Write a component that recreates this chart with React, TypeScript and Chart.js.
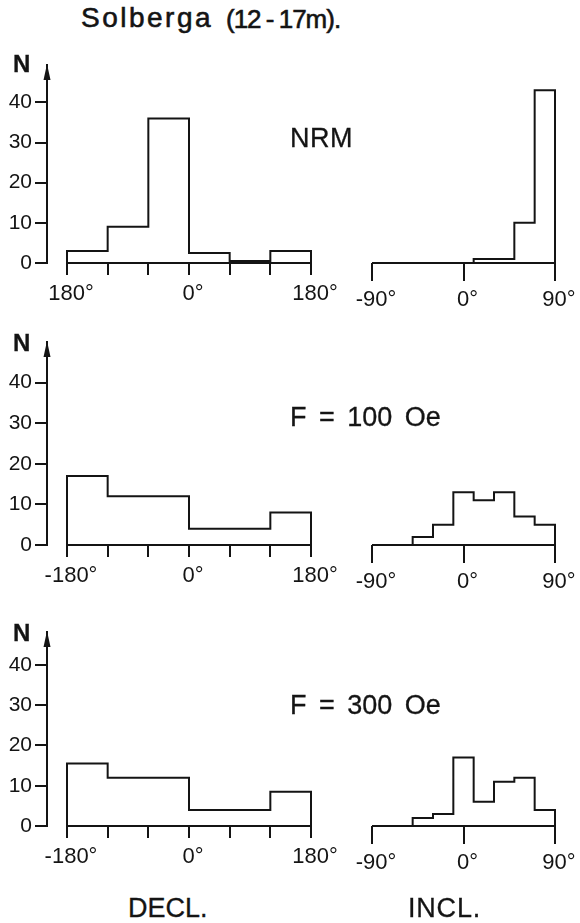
import React, { useEffect, useRef } from "react";
import { Chart, registerables } from "chart.js";

Chart.register(...registerables);

// ---- data ----
const declEdges = [-180, -120, -60, 0, 60, 120, 180];
const inclEdges = [-90, -70, -50, -30, -10, 10, 30, 50, 70, 90];
const declTicks = [-180, -120, -60, 0, 60, 120, 180];
const inclTicks = [-90, 0, 90];
const yTicks = [0, 10, 20, 30, 40];
const declTickLabelsTop = ["180°", "", "", "0°", "", "", "180°"];
const declTickLabels = ["-180°", "", "", "0°", "", "", "180°"];
const inclTickLabels = ["-90°", "0°", "90°"];

const nrmDecl = [3, 9, 36, 2.5, 0.5, 3];
const nrmIncl = [0, 0, 0, 0, 0, 1, 1, 10, 43];
const f100Decl = [17, 12, 12, 4, 4, 8];
const f100Incl = [0, 0, 2, 5, 13, 11, 13, 7, 5];
const f300Decl = [15.5, 12, 12, 4, 4, 8.5];
const f300Incl = [0, 0, 2, 3, 17, 6, 11, 12, 4];

const FONT = "'Liberation Sans', Arial, sans-serif";
const INK = "#141414";

function stepPoints(edges: number[], values: number[]) {
  const pts: { x: number; y: number }[] = [{ x: edges[0], y: 0 }];
  values.forEach((v, i) => pts.push({ x: edges[i], y: v }));
  pts.push({ x: edges[edges.length - 1], y: values[values.length - 1] });
  pts.push({ x: edges[edges.length - 1], y: 0 });
  return pts;
}

const arrowPlugin = {
  id: "yArrow",
  afterDraw(chart: any) {
    const y = chart.scales.y;
    if (!y || !y.options.display) return;
    const ctx = chart.ctx;
    const x = y.right;
    const top = chart.chartArea.top;
    ctx.save();
    ctx.fillStyle = INK;
    ctx.beginPath();
    ctx.moveTo(x, top - 1);
    ctx.lineTo(x - 3.5, top + 15);
    ctx.lineTo(x + 3.5, top + 15);
    ctx.closePath();
    ctx.fill();
    ctx.restore();
  },
};

type PanelProps = {
  left: number;
  top: number;
  width: number;
  height: number;
  edges: number[];
  values: number[];
  ticks: number[];
  tickLabels: string[];
  xMin: number;
  xMax: number;
  yMax: number;
  showY: boolean;
  tickLen: number;
  padding: { left: number; top: number; right: number; bottom: number };
};

function Panel(p: PanelProps) {
  const ref = useRef<HTMLCanvasElement | null>(null);
  useEffect(() => {
    if (!ref.current) return;
    const chart = new Chart(ref.current, {
      type: "line",
      data: {
        datasets: [
          {
            data: stepPoints(p.edges, p.values),
            stepped: true,
            borderColor: INK,
            borderWidth: 2,
            pointRadius: 0,
            fill: false,
            clip: false,
          } as any,
          {
            data: [
              { x: p.edges[0], y: 0 },
              { x: p.edges[p.edges.length - 1], y: 0 },
            ],
            borderColor: INK,
            borderWidth: 2,
            pointRadius: 0,
            fill: false,
            clip: false,
          } as any,
        ],
      },
      options: {
        animation: false,
        responsive: false,
        maintainAspectRatio: false,
        devicePixelRatio: 1,
        layout: { padding: p.padding },
        plugins: {
          legend: { display: false },
          tooltip: { enabled: false },
        },
        scales: {
          x: {
            type: "linear",
            min: p.xMin,
            max: p.xMax,
            afterBuildTicks: (s: any) => {
              s.ticks = p.ticks.map((v) => ({ value: v }));
            },
            afterFit: (s: any) => {
              s.height = 50;
              s.paddingLeft = 0;
              s.paddingRight = 0;
            },
            grid: {
              drawOnChartArea: false,
              drawTicks: true,
              tickLength: p.tickLen,
              color: INK,
              lineWidth: 2,
            },
            border: { display: false },
            ticks: {
              callback: (_v: any, i: number) => p.tickLabels[i],
              color: INK,
              font: { family: FONT, size: 22 },
              padding: 6,
              labelOffset: 4,
              maxRotation: 0,
              autoSkip: false,
            },
          },
          y: {
            type: "linear",
            min: 0,
            max: p.yMax,
            display: p.showY,
            afterBuildTicks: (s: any) => {
              s.ticks = yTicks.map((v) => ({ value: v }));
            },
            afterFit: (s: any) => {
              s.width = p.showY ? 47 : 0;
              s.paddingTop = 0;
              s.paddingBottom = 0;
            },
            grid: {
              drawOnChartArea: false,
              drawTicks: true,
              tickLength: 12,
              color: INK,
              lineWidth: 2,
            },
            border: { display: true, color: INK, width: 2 },
            ticks: {
              color: INK,
              font: { family: FONT, size: 21 },
              padding: 3,
              callback: (v: any) => String(v),
            },
          },
        },
      } as any,
      plugins: [arrowPlugin],
    });
    return () => chart.destroy();
  }, []);
  return (
    <canvas
      ref={ref}
      width={p.width}
      height={p.height}
      style={{
        position: "absolute",
        left: p.left,
        top: p.top,
        width: p.width,
        height: p.height,
      }}
    />
  );
}

function T(props: {
  x: number;
  base: number;
  size: number;
  bold?: boolean;
  style?: React.CSSProperties;
  children: React.ReactNode;
}) {
  return (
    <div
      style={{
        position: "absolute",
        left: props.x,
        top: props.base - 0.8465 * props.size,
        fontFamily: FONT,
        fontSize: props.size,
        lineHeight: `${props.size}px`,
        fontWeight: props.bold ? 700 : 400,
        color: INK,
        whiteSpace: "pre",
        WebkitTextStroke: "0.3px " + INK,
        ...props.style,
      }}
    >
      {props.children}
    </div>
  );
}

const DECL_XMIN = -180 - (20 * 360) / 244;
const declPad = { left: 0, top: 14, right: 29, bottom: 0 };
const inclPad = { left: 42, top: 14, right: 25, bottom: 0 };

const rows = [
  { top: 51, height: 262, yMax: 198 / 4.015, decl: nrmDecl, incl: nrmIncl, labels: declTickLabelsTop, nBase: 72 },
  { top: 328, height: 267, yMax: 203 / 4.06, decl: f100Decl, incl: f100Incl, labels: declTickLabels, nBase: 351 },
  { top: 618, height: 258, yMax: 194 / 4.025, decl: f300Decl, incl: f300Incl, labels: declTickLabels, nBase: 641 },
];

export default function App() {
  return (
    <div
      style={{
        position: "absolute",
        left: 0,
        top: 0,
        width: 580,
        height: 923,
        background: "#fff",
        overflow: "hidden",
      }}
    >
      <T x={81} base={28} size={28} style={{ letterSpacing: "2.5px", WebkitTextStroke: "0.6px " + INK }}>
        Solberga
      </T>
      <T x={226} base={28} size={26} style={{ letterSpacing: "-1px", wordSpacing: "-1px", WebkitTextStroke: "0.6px " + INK }}>
        (12 - 17m).
      </T>
      {rows.map((r, i) => (
        <React.Fragment key={i}>
          <Panel
            left={0}
            top={r.top}
            width={340}
            height={r.height}
            edges={declEdges}
            values={r.decl}
            ticks={declTicks}
            tickLabels={r.labels}
            xMin={DECL_XMIN}
            xMax={180}
            yMax={r.yMax}
            showY={true}
            tickLen={12}
            padding={declPad}
          />
          <Panel
            left={330}
            top={r.top}
            width={250}
            height={r.height}
            edges={inclEdges}
            values={r.incl}
            ticks={inclTicks}
            tickLabels={inclTickLabels}
            xMin={-90}
            xMax={90}
            yMax={r.yMax}
            showY={false}
            tickLen={18}
            padding={inclPad}
          />
          <T x={13} base={r.nBase} size={24} bold>
            N
          </T>
        </React.Fragment>
      ))}
      <T x={290} base={148} size={27} style={{ letterSpacing: "0.5px" }}>
        NRM
      </T>
      <T x={290} base={427} size={27} style={{ wordSpacing: "5px" }}>
        F = 100 Oe
      </T>
      <T x={290} base={715} size={27} style={{ wordSpacing: "5px" }}>
        F = 300 Oe
      </T>
      <T x={128} base={918} size={27}>
        DECL.
      </T>
      <T x={408} base={918} size={27} style={{ letterSpacing: "0.8px" }}>
        INCL.
      </T>
    </div>
  );
}
